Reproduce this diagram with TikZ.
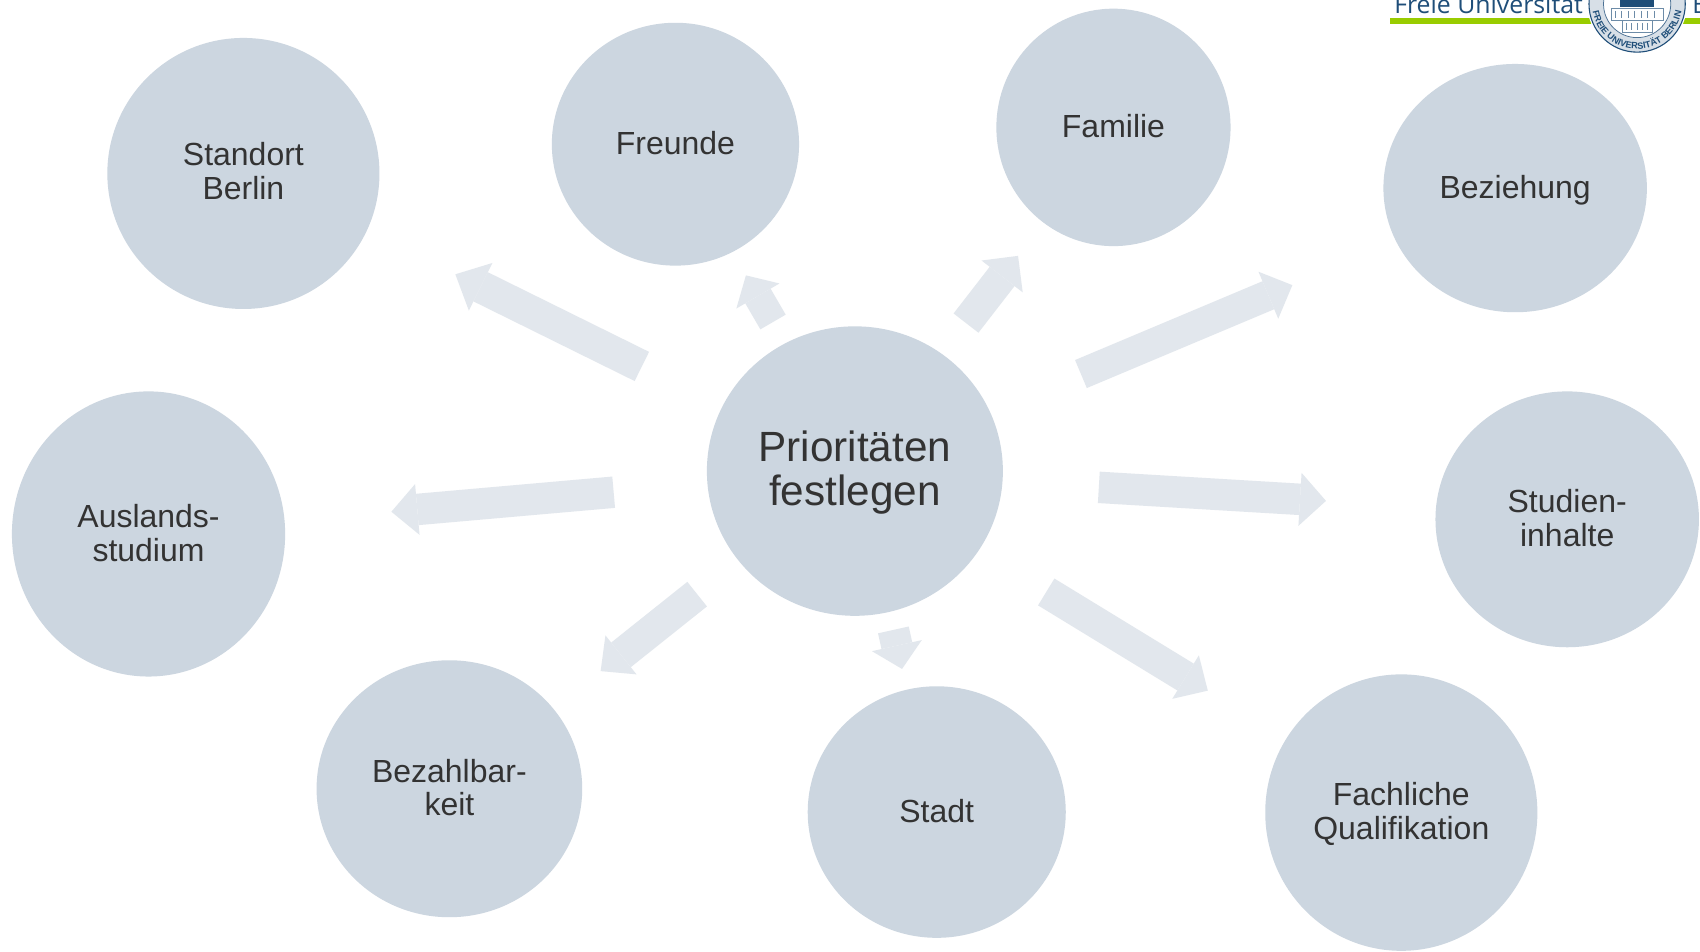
\documentclass[tikz,border=0pt]{standalone}
\usepackage{fontspec}
\setmainfont{Liberation Sans}
\newfontfamily\logofont{Open Sans}
\usetikzlibrary{arrows.meta,shapes.geometric,decorations.text}
\definecolor{bub}{HTML}{CCD6E0}
\definecolor{arr}{HTML}{E2E7ED}
\definecolor{txt}{HTML}{333333}
\definecolor{fublue}{HTML}{1F4E79}
\definecolor{fugreen}{HTML}{99CC00}
\tikzset{
  bubble/.style={ellipse,fill=bub,inner sep=0pt,outer sep=0pt},
  bubbletext/.style={text=txt,align=center,inner sep=0pt,
    font=\fontsize{29.5}{31}\selectfont},
  bigtext/.style={bubbletext,font=\fontsize{39}{40.5}\selectfont},
  blockarrow/.style args={#1/#2/#3}{draw=arr,line width=#1,line cap=butt,
    -{Triangle[length=#3,width=#2,fill=arr,line width=0pt,sep=0pt]},shorten >=0pt},
  logotext/.style={text=fublue,inner sep=0pt,outer sep=0pt,font=\logofont\fontsize{22.9}{24}\selectfont},
}
\newcommand{\bubbleat}[8][bubbletext]{% text style, name, xmin, xmax, ymin, ymax, text offset, text
  \node[bubble,minimum width=#4pt-#3pt,minimum height=#6pt-#5pt,
        label={[#1,yshift=#7pt]center:{#8}}] (#2) at ({(#3+#4)/2},{(#5+#6)/2}) {};}
\begin{document}
\begin{tikzpicture}[x=1pt,y=-1pt]
\useasboundingbox (0,0) rectangle (1568,877.2);
\fill[white] (0,0) rectangle (1568,877.2);
% bubbles
\bubbleat[bigtext]{centre}{652}{925}{301}{568}{-1.5}{Prioritäten\\festlegen}
\bubbleat{standort}{99}{350}{35}{285}{2}{Standort\\Berlin}
\bubbleat{freunde}{509}{737}{21}{245}{1}{Freunde}
\bubbleat{familie}{919}{1135}{8}{227}{1}{Familie}
\bubbleat{beziehung}{1276}{1519}{59}{288}{-2}{Beziehung}
\bubbleat{studien}{1324}{1567}{361}{597}{1}{Studien-\\inhalte}
\bubbleat{fach}{1167}{1418}{622}{877}{-1.5}{Fachliche\\Qualifikation}
\bubbleat{stadt}{745}{983}{633}{865}{1}{Stadt}
\bubbleat{bezahl}{292}{537}{609}{846}{1}{Bezahlbar-\\keit}
\bubbleat{ausland}{11}{263}{361}{624}{1}{Auslands-\\studium}
% arrow ends
\coordinate (a1) at (592,338);  \coordinate (b1) at (420,253);
\coordinate (a2) at (713,297);  \coordinate (b2) at (688,254);
\coordinate (a3) at (891,298);  \coordinate (b3) at (939,236);
\coordinate (a4) at (997,345);  \coordinate (b4) at (1192,263);
\coordinate (a5) at (1013.5,449.5); \coordinate (b5) at (1223,462);
\coordinate (a6) at (965,546);  \coordinate (b6) at (1114,637);
\coordinate (a7) at (824,581);  \coordinate (b7) at (832,617);
\coordinate (a8) at (643,548);  \coordinate (b8) at (554,619);
\coordinate (a9) at (566,454);  \coordinate (b9) at (361,472);
\draw[blockarrow=30pt/49pt/26pt] (a1) -- (b1);
\draw[blockarrow=27pt/46pt/22pt] (a2) -- (b2);
\draw[blockarrow=29pt/48pt/24pt] (a3) -- (b3);
\draw[blockarrow=28pt/47pt/24pt] (a4) -- (b4);
\draw[blockarrow=29pt/49pt/24pt] (a5) -- (b5);
\draw[blockarrow=29pt/47pt/24pt] (a6) -- (b6);
\draw[blockarrow=29pt/47pt/22pt] (a7) -- (b7);
\draw[blockarrow=29pt/46pt/24pt] (a8) -- (b8);
\draw[blockarrow=29pt/47pt/24pt] (a9) -- (b9);
% logo
\fill[fugreen] (1282,16.6) rectangle (1568,22.4);
\node[logotext,anchor=base west] (fu) at (1286,12) {Freie Universität};
\node[logotext,anchor=base west] (bln) at (1561,12) {B};
\coordinate (seal) at (1510,3.7);
\fill[white] (seal) circle (46);
\fill[fublue!18] (seal) circle (44.4);
\fill[white] (seal) circle (31);
\draw[fublue,line width=1pt] (seal) circle (44.4);
\draw[fublue!80,line width=.7pt] (seal) circle (31);
\path[postaction={decorate,decoration={text along path,text align=center,
   text={|\color{fublue}\bfseries\fontsize{8.4}{9}\selectfont|FREIE UNIVERSITÄT BERLIN}}}]
   (1471,-10.5) arc[start angle=160,end angle=380,radius=41.5pt];
\fill[fublue] (1494,-4) rectangle (1526,6);
\draw[fublue!65,line width=.6pt,fill=white] (1486,8) rectangle (1534,19);
\draw[fublue!65,line width=.6pt] (1496,19) rectangle (1524,30);
\foreach \i in {1490,1496,...,1530}{\draw[fublue!65,line width=.9pt] (\i,10) -- (\i,17);}
\foreach \i in {1500,1505,...,1520}{\draw[fublue!65,line width=.9pt] (\i,21) -- (\i,28);}
\end{tikzpicture}
\end{document}
